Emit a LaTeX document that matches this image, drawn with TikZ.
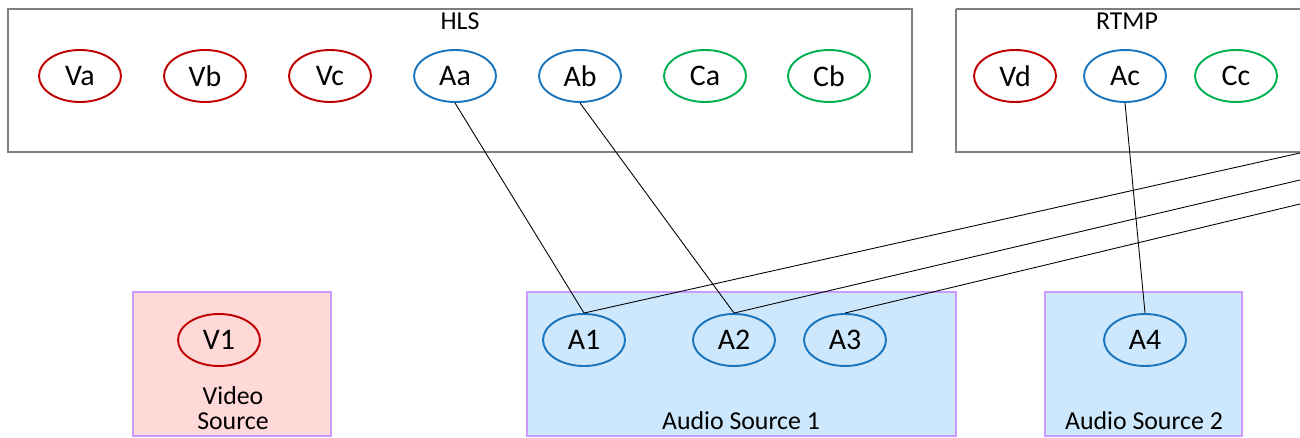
\documentclass[tikz,border=0pt]{standalone}
\usepackage{fontspec}
\setmainfont{Carlito}
\usetikzlibrary{shapes.geometric}
\definecolor{vred}{HTML}{C00000}
\definecolor{ablue}{HTML}{1B75BC}
\definecolor{cgreen}{HTML}{00B050}
\definecolor{boxgray}{HTML}{7F7F7F}
\definecolor{srcpink}{HTML}{FFD8D8}
\definecolor{srcblue}{HTML}{CDE8FD}
\definecolor{srcedge}{HTML}{CC99FF}
\tikzset{
  stream/.style={ellipse, draw, line width=1.1pt, minimum width=82*0.02cm, minimum height=52*0.02cm, inner sep=0pt, font=\fontsize{17}{20}\selectfont},
  vid/.style={stream, draw=vred},
  aud/.style={stream, draw=ablue},
  capt/.style={stream, draw=cgreen},
  group/.style={draw=boxgray, line width=1.2pt},
  source/.style={draw=srcedge, line width=1.1pt},
  lbl/.style={font=\fontsize{14.7}{17}\selectfont, inner sep=0pt},
  link/.style={black, line width=0.5pt}
}
\begin{document}
\begin{tikzpicture}[x=0.02cm, y=-0.02cm]
\useasboundingbox (0,0) rectangle (1300,438);
% protocol groups
\draw[group] (8,9) rectangle (912,152);
\node[lbl] (hls) at (460,21) {HLS};
\draw[group] (956,9) -- (1310,9) (956,9) -- (956,152) -- (1310,152);
\node[lbl] (rtmp) at (1127,21) {RTMP};
% sources
\draw[source, fill=srcpink] (133,292) rectangle (331,436);
\draw[source, fill=srcblue] (527,292) rectangle (956,436);
\draw[source, fill=srcblue] (1045,292) rectangle (1242,436);
\node[lbl, align=center] (vsrc) at (233,408) {Video\\[-3pt]Source};
\node[lbl] (as1) at (741,421) {Audio Source 1};
\node[lbl] (as2) at (1144,421) {Audio Source 2};
% HLS streams
\node[vid] (Va) at (80,76) {Va};
\node[vid] (Vb) at (205,76) {Vb};
\node[vid] (Vc) at (330,76) {Vc};
\node[aud] (Aa) at (455,76) {Aa};
\node[aud] (Ab) at (580,76) {Ab};
\node[capt] (Ca) at (705,76) {Ca};
\node[capt] (Cb) at (829,76) {Cb};
% RTMP streams
\node[vid] (Vd) at (1015,76) {Vd};
\node[aud] (Ac) at (1125,76) {Ac};
\node[capt] (Cc) at (1236,76) {Cc};
% source streams
\node[vid] (V1) at (219,340) {V1};
\node[aud] (A1) at (584,340) {A1};
\node[aud] (A2) at (734,340) {A2};
\node[aud] (A3) at (845,340) {A3};
\node[aud] (A4) at (1145,340) {A4};
% links
\coordinate (r1) at (1300,153);
\coordinate (r2) at (1300,180);
\coordinate (r3) at (1300,204);
\draw[link] (Aa.south) -- (A1.north);
\draw[link] (Ab.south) -- (A2.north);
\draw[link] (Ac.south) -- (A4.north);
\draw[link] (r1) -- (A1.north);
\draw[link] (r2) -- (A2.north);
\draw[link] (r3) -- (A3.north);
\end{tikzpicture}
\end{document}
